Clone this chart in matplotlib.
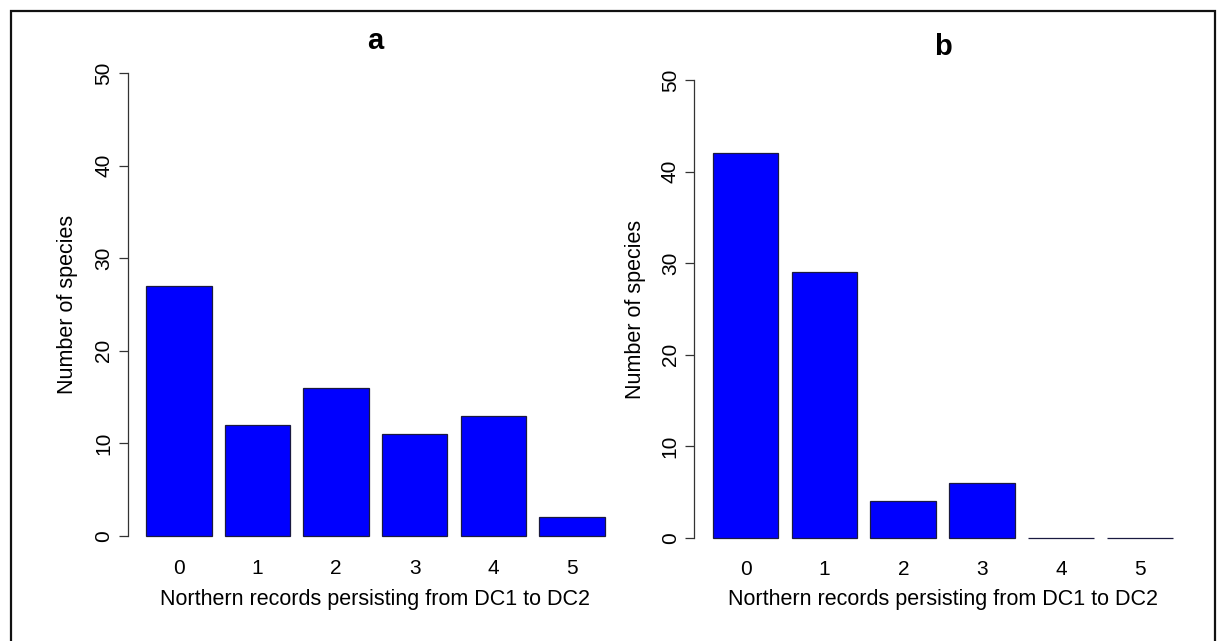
import matplotlib
matplotlib.use("Agg")
import matplotlib.pyplot as plt
from matplotlib.patches import Rectangle

plt.rcParams["font.family"] = ["Liberation Sans", "DejaVu Sans"]

# Counts of species per number of persisting northern records
records = ["0", "1", "2", "3", "4", "5"]
counts_a = [27, 12, 16, 11, 13, 2]
counts_b = [42, 29, 4, 6, 0, 0]

W, H = 1224, 641
fig = plt.figure(figsize=(W / 100, H / 100), dpi=100)

# panel boxes in pixels: left, right, top, bottom; title baseline; ylabel x
panels = [
    ("a", counts_a, (127.7, 623.0, 54.5, 554.5), 49, 67),
    ("b", counts_b, (694.4, 1191.0, 62.0, 556.0), 55, 636),
]

for title, counts, (l, r, t, b), title_base, ylab_x in panels:
    ax = fig.add_axes([l / W, 1 - b / H, (r - l) / W, (b - t) / H])
    # barplot layout: width 1, space 0.2
    centers = [0.7 + 1.2 * i for i in range(len(counts))]
    ax.bar(centers, counts, width=1.0, color="#0000ff",
           edgecolor="#1a1a40", linewidth=0.9)
    ax.set_xlim(-0.08, 7.48)
    ax.set_ylim(-2, 52)

    ax.set_xticks(centers)
    ax.set_xticklabels(records)
    ax.set_yticks([0, 10, 20, 30, 40, 50])
    ax.tick_params(axis="x", length=0, pad=3, labelsize=15)
    ax.tick_params(axis="y", length=6.5, width=0.9, pad=4,
                   labelsize=15, color="#333333")
    for lab in ax.get_yticklabels():
        lab.set_rotation(90)
        lab.set_va("center")

    for side in ("top", "right", "bottom"):
        ax.spines[side].set_visible(False)
    ax.spines["left"].set_bounds(0, 50)
    ax.spines["left"].set_linewidth(0.9)
    ax.spines["left"].set_color("#333333")

    ax.set_xlabel("Northern records persisting from DC1 to DC2", fontsize=15.5)
    ax.xaxis.set_label_coords(0.5, -(600 - b) / (b - t))
    ax.xaxis.label.set_va("center")
    ax.set_ylabel("Number of species", fontsize=15.5)
    ax.yaxis.set_label_coords(-(l - ylab_x) / (r - l), 0.5)
    ax.yaxis.label.set_va("center")

    ax.text(0.5, 1 + (t - title_base) / (b - t), title, transform=ax.transAxes,
            ha="center", va="baseline", fontsize=21, fontweight="bold")

# frame around the whole figure
fig.patches.append(Rectangle((11 / W, -0.05), (1215 - 11) / W, 1.05 - 11 / H,
                             transform=fig.transFigure, fill=False,
                             edgecolor="#111111", linewidth=1.6))

fig.savefig("out.png", dpi=100)
